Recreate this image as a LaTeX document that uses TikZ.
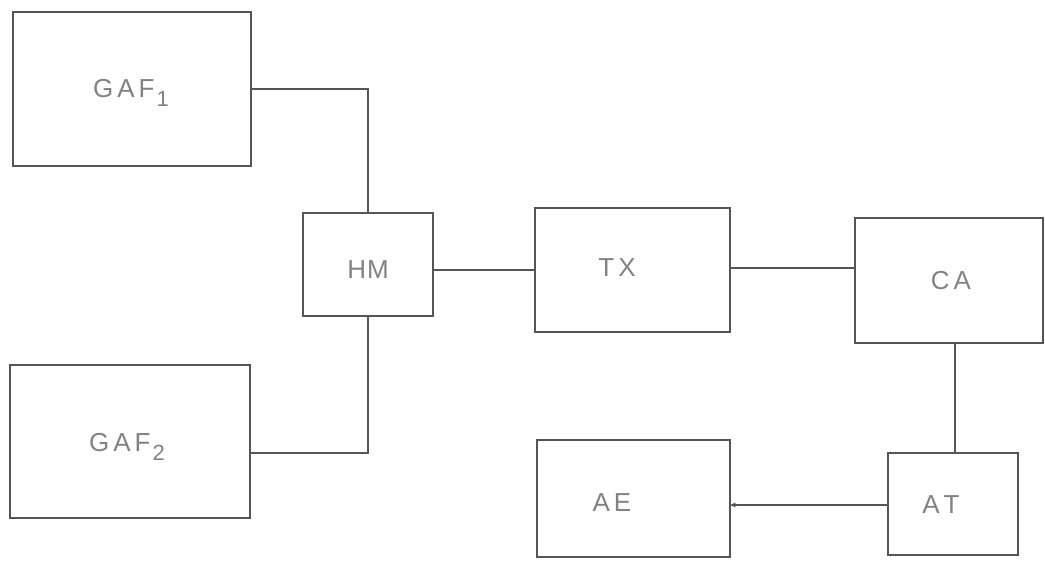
\documentclass[tikz,border=0pt]{standalone}
\usepackage{fontspec}
\setmainfont{Liberation Sans}
\usetikzlibrary{arrows.meta}
\definecolor{ink}{RGB}{85,85,85}
\definecolor{txt}{RGB}{130,130,130}
\newcommand{\lsp}{\kern4pt}
\newcommand{\mysub}[1]{{\fontsize{22}{22}\selectfont\kern2pt\raisebox{-9pt}{#1}}}
\begin{document}
\begin{tikzpicture}[x=1pt,y=-1pt,
  blk/.style={draw=ink, line width=1.6pt, inner sep=0pt, outer sep=0pt, fill=none},
  lbl/.style={text=txt, font=\fontsize{26}{26}\selectfont},
  wire/.style={draw=ink, line width=1.5pt}]
\useasboundingbox (0,0) rectangle (1045,563);
% boxes: center, size
\node[blk, minimum width=238pt, minimum height=154pt] (gaf1) at (132,89) {};
\node[blk, minimum width=240pt, minimum height=153pt] (gaf2) at (130,441.5) {};
\node[blk, minimum width=130pt, minimum height=103pt] (hm) at (368,264.5) {};
\node[blk, minimum width=195pt, minimum height=124pt] (tx) at (632.5,270) {};
\node[blk, minimum width=188pt, minimum height=125pt] (ca) at (949,280.5) {};
\node[blk, minimum width=130pt, minimum height=102pt] (at) at (953,504) {};
\node[blk, minimum width=193pt, minimum height=117pt] (ae) at (633.5,498.5) {};
% labels
\node[lbl] (tgaf1) at (131,93) {G\lsp A\lsp F\mysub{1}};
\node[lbl] (tgaf2) at (127,447) {G\lsp A\lsp F\mysub{2}};
\node[lbl] (thm) at (368,270) {H\kern1pt M};
\node[lbl] (ttx) at (617,268) {T\lsp X};
\node[lbl] (tca) at (951,281) {C\lsp A};
\node[lbl] (tat) at (941,505) {A\lsp T};
\node[lbl] (tae) at (612,503) {A\lsp E};
% connectors
\coordinate (k1) at (368,89);
\coordinate (k2) at (368,453);
\draw[wire] (gaf1.east |- k1) -- (k1) -- (hm.north);
\draw[wire] (gaf2.east |- k2) -- (k2) -- (hm.south);
\draw[wire] (hm.east |- 0,270) -- (tx.west |- 0,270);
\draw[wire] (tx.east |- 0,268) -- (ca.west |- 0,268);
\draw[wire] (ca.south -| 955,0) -- (at.north -| 955,0);
\draw[wire, -{Stealth[length=6pt,width=5pt]}] (at.west |- 0,505) -- (ae.east |- 0,505);
\end{tikzpicture}
\end{document}
